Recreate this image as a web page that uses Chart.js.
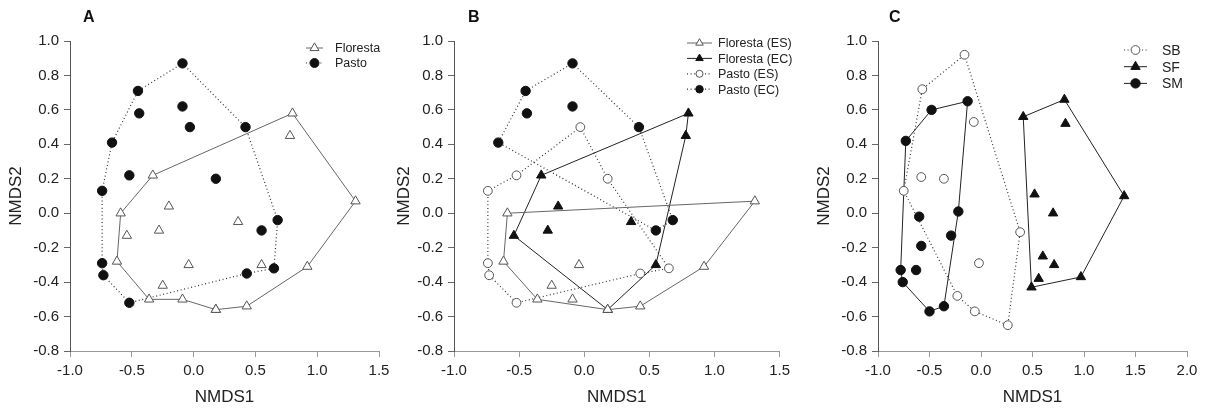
<!DOCTYPE html>
<html>
<head>
<meta charset="utf-8">
<script src="https://cdn.jsdelivr.net/npm/chart.js@4.4.1/dist/chart.umd.min.js"></script>
<style>
  body { margin: 0; background: #fff; }
  #wrap { position: relative; width: 1209px; height: 410px; overflow: hidden; background: #fff; }
  canvas { position: absolute; top: 0; }
  .tag { position: absolute; top: 9px; font: bold 16px "Liberation Sans", Arial, sans-serif; color: #111; line-height: 1; }
</style>
</head>
<body>
<div id="wrap">
  <canvas id="chartA" width="400" height="410" style="left:0px"></canvas>
  <canvas id="chartB" width="410" height="410" style="left:385px"></canvas>
  <canvas id="chartC" width="404" height="410" style="left:805px"></canvas>
  <div class="tag" style="left:83px">A</div>
  <div class="tag" style="left:468px">B</div>
  <div class="tag" style="left:889px">C</div>
</div>
<script>
// NMDS scores, [NMDS1, NMDS2]
const florestaES = [[1.31, 0.07], [-0.59, 0.00], [-0.62, -0.28], [-0.04, -0.30], [0.92, -0.31],
  [-0.25, -0.42], [-0.36, -0.50], [-0.09, -0.50], [0.43, -0.54], [0.18, -0.56]];
const florestaEC = [[0.80, 0.58], [0.78, 0.45], [-0.33, 0.22], [-0.20, 0.04], [0.36, -0.05],
  [-0.28, -0.10], [-0.54, -0.13], [0.55, -0.30], [0.18, -0.56]];
const pastoES = [[-0.03, 0.50], [-0.52, 0.22], [0.18, 0.20], [-0.74, 0.13], [-0.74, -0.29],
  [-0.73, -0.36], [-0.52, -0.52], [0.43, -0.35], [0.65, -0.32]];
const pastoEC = [[-0.09, 0.87], [-0.45, 0.71], [-0.44, 0.58], [-0.09, 0.62], [0.42, 0.50],
  [-0.66, 0.41], [0.55, -0.10], [0.68, -0.04]];

const sb = [[-0.16, 0.92], [-0.57, 0.72], [-0.07, 0.53], [-0.58, 0.21], [-0.36, 0.20], [-0.75, 0.13],
  [0.38, -0.11], [-0.02, -0.29], [-0.23, -0.48], [-0.06, -0.57], [0.26, -0.65]];
const sf = [[0.41, 0.56], [0.81, 0.66], [0.82, 0.52], [1.39, 0.10], [0.52, 0.11], [0.70, 0.00],
  [0.60, -0.25], [0.71, -0.30], [0.56, -0.38], [0.97, -0.37], [0.49, -0.43]];
const sm = [[-0.13, 0.65], [-0.48, 0.60], [-0.73, 0.42], [-0.22, 0.01], [-0.60, -0.02], [-0.29, -0.13],
  [-0.58, -0.19], [-0.78, -0.33], [-0.63, -0.33], [-0.76, -0.40], [-0.50, -0.57], [-0.36, -0.54]];

// hull outlines, as indices into the point lists
const floresta = florestaES.concat(florestaEC);
const pasto = pastoES.concat(pastoEC);
const florestaHullA = [10, 0, 4, 8, 9, 7, 6, 2, 1, 12];
const pastoHullA = [9, 13, 16, 8, 7, 6, 5, 4, 3, 14, 10];
const florestaESHull = [1, 0, 4, 8, 9, 6, 2];
const florestaECHull = [0, 1, 7, 8, 6, 2];
const pastoESHull = [0, 2, 8, 7, 6, 5, 4, 3, 1];
const pastoECHull = [0, 4, 7, 6, 5, 1];
const sbHull = [0, 6, 10, 9, 8, 5, 1];
const sfHull = [0, 1, 3, 9, 10];
const smHull = [2, 1, 0, 3, 11, 10, 9, 7];

const yTicks = [-0.8, -0.6, -0.4, -0.2, 0.0, 0.2, 0.4, 0.6, 0.8, 1.0];
const FONT = '"Liberation Sans", Arial, sans-serif';

function pts(list) {
  return list.map(p => ({ x: p[0], y: p[1] }));
}
function ring(list, order) {
  const r = order.map(i => ({ x: list[i][0], y: list[i][1] }));
  r.push(r[0]);
  return r;
}

const OPEN_TRI = { pointStyle: "triangle", radius: 5.4, fill: "#fff", stroke: "#555" };
const FULL_TRI = { pointStyle: "triangle", radius: 5.4, fill: "#111", stroke: "#111" };
const OPEN_CIR = { pointStyle: "circle", radius: 4.4, fill: "#fff", stroke: "#555" };
const FULL_CIR = { pointStyle: "circle", radius: 4.7, fill: "#111", stroke: "#111" };
const SOLID_GREY = { color: "#666", width: 1, dash: [] };
const SOLID_DARK = { color: "#222", width: 1, dash: [] };
const DOTTED = { color: "#333", width: 1.2, dash: [1, 2.6] };

function pointSet(list, m) {
  return {
    data: pts(list),
    showLine: false,
    pointStyle: m.pointStyle,
    pointRadius: m.radius,
    pointBackgroundColor: m.fill,
    pointBorderColor: m.stroke,
    pointBorderWidth: 1,
  };
}
function hullSet(list, order, l) {
  return {
    data: ring(list, order),
    showLine: true,
    pointRadius: 0,
    borderColor: l.color,
    borderWidth: l.width,
    borderDash: l.dash,
    fill: false,
  };
}

// small legend: line with marker, then label
const lineLegend = {
  id: "lineLegend",
  afterDraw(chart, args, opts) {
    const ctx = chart.ctx;
    ctx.save();
    opts.items.forEach((it, i) => {
      const y = opts.y + i * opts.gap;
      ctx.beginPath();
      ctx.setLineDash(it.line.dash);
      ctx.strokeStyle = it.line.color;
      ctx.lineWidth = it.line.width;
      ctx.moveTo(opts.x0, y);
      ctx.lineTo(opts.x1, y);
      ctx.stroke();
      ctx.setLineDash([]);
      const cx = (opts.x0 + opts.x1) / 2;
      const r = it.marker.radius * (opts.scale || 1);
      ctx.beginPath();
      if (it.marker.pointStyle === "triangle") {
        let a = 0;
        ctx.moveTo(cx + Math.sin(a) * r, y - Math.cos(a) * r);
        a += 2 * Math.PI / 3;
        ctx.lineTo(cx + Math.sin(a) * r, y - Math.cos(a) * r);
        a += 2 * Math.PI / 3;
        ctx.lineTo(cx + Math.sin(a) * r, y - Math.cos(a) * r);
        ctx.closePath();
      } else {
        ctx.arc(cx, y, r, 0, Math.PI * 2);
      }
      ctx.fillStyle = it.marker.fill;
      ctx.fill();
      ctx.strokeStyle = it.marker.stroke;
      ctx.lineWidth = 1;
      ctx.stroke();
      ctx.fillStyle = "#222";
      ctx.font = opts.fontSize + "px " + FONT;
      ctx.textBaseline = "middle";
      ctx.textAlign = "left";
      ctx.fillText(it.label, opts.tx, y + 1);
    });
    ctx.restore();
  }
};

function options(xMin, xMax, yAxisWidth, padRight, yTitlePad, legend) {
  return {
    responsive: false,
    animation: false,
    events: [],
    layout: { padding: { left: 0, top: 41, right: padRight, bottom: 0 } },
    plugins: { legend: { display: false }, tooltip: { enabled: false }, lineLegend: legend },
    scales: {
      x: {
        type: "linear",
        min: xMin,
        max: xMax,
        afterFit: function (s) { s.height = 59; },
        ticks: {
          stepSize: 0.5,
          padding: 5,
          color: "#222",
          font: { family: FONT, size: 15 },
          callback: function (v) { return Number(v).toFixed(1); }
        },
        grid: { drawOnChartArea: false, drawTicks: true, tickLength: 6, color: "#999" },
        border: { color: "#999", width: 1 },
        title: { display: true, text: "NMDS1", color: "#222", font: { family: FONT, size: 17 }, padding: { top: 0, bottom: 2 } }
      },
      y: {
        type: "linear",
        min: yTicks[0],
        max: yTicks[yTicks.length - 1],
        afterFit: function (s) { s.width = yAxisWidth; },
        afterBuildTicks: function (s) { s.ticks = yTicks.map(v => ({ value: v })); },
        ticks: {
          padding: 5,
          color: "#222",
          font: { family: FONT, size: 15 },
          callback: function (v) { return Number(v).toFixed(1); }
        },
        grid: { drawOnChartArea: false, drawTicks: true, tickLength: 6, color: "#666" },
        border: { color: "#555", width: 1 },
        title: { display: true, text: "NMDS2", color: "#222", font: { family: FONT, size: 17 }, padding: { top: yTitlePad, bottom: 0 } }
      }
    }
  };
}

// Panel A
new Chart(document.getElementById("chartA"), {
  type: "scatter",
  data: {
    datasets: [
      pointSet(floresta, OPEN_TRI),
      pointSet(pasto, FULL_CIR),
      hullSet(floresta, florestaHullA, SOLID_GREY),
      hullSet(pasto, pastoHullA, DOTTED)
    ]
  },
  options: options(-1.0, 1.5, 70, 21, 6.3, {
    x0: 306, x1: 323, tx: 335, y: 48, gap: 15, fontSize: 12.5, scale: 0.95,
    items: [
      { label: "Floresta", marker: OPEN_TRI, line: SOLID_GREY },
      { label: "Pasto", marker: FULL_CIR, line: DOTTED }
    ]
  }),
  plugins: [lineLegend]
});

// Panel B
new Chart(document.getElementById("chartB"), {
  type: "scatter",
  data: {
    datasets: [
      pointSet(florestaES, OPEN_TRI),
      pointSet(florestaEC, FULL_TRI),
      pointSet(pastoES, OPEN_CIR),
      pointSet(pastoEC, FULL_CIR),
      hullSet(florestaES, florestaESHull, SOLID_GREY),
      hullSet(florestaEC, florestaECHull, SOLID_DARK),
      hullSet(pastoES, pastoESHull, DOTTED),
      hullSet(pastoEC, pastoECHull, DOTTED)
    ]
  },
  options: options(-1.0, 1.5, 69, 7, 8.8, {
    x0: 302, x1: 327, tx: 333, y: 43, gap: 15.4, fontSize: 12.5, scale: 0.8,
    items: [
      { label: "Floresta (ES)", marker: OPEN_TRI, line: SOLID_GREY },
      { label: "Floresta (EC)", marker: FULL_TRI, line: SOLID_DARK },
      { label: "Pasto (ES)", marker: OPEN_CIR, line: DOTTED },
      { label: "Pasto (EC)", marker: FULL_CIR, line: DOTTED }
    ]
  }),
  plugins: [lineLegend]
});

// Panel C
new Chart(document.getElementById("chartC"), {
  type: "scatter",
  data: {
    datasets: [
      pointSet(sb, OPEN_CIR),
      pointSet(sf, FULL_TRI),
      pointSet(sm, FULL_CIR),
      hullSet(sb, sbHull, DOTTED),
      hullSet(sf, sfHull, SOLID_DARK),
      hullSet(sm, smHull, SOLID_DARK)
    ]
  },
  options: options(-1.0, 2.0, 73, 22, 8.8, {
    x0: 319, x1: 342, tx: 357, y: 50, gap: 16.7, fontSize: 14, scale: 1.0,
    items: [
      { label: "SB", marker: OPEN_CIR, line: DOTTED },
      { label: "SF", marker: FULL_TRI, line: SOLID_DARK },
      { label: "SM", marker: FULL_CIR, line: SOLID_DARK }
    ]
  }),
  plugins: [lineLegend]
});
</script>
</body>
</html>
